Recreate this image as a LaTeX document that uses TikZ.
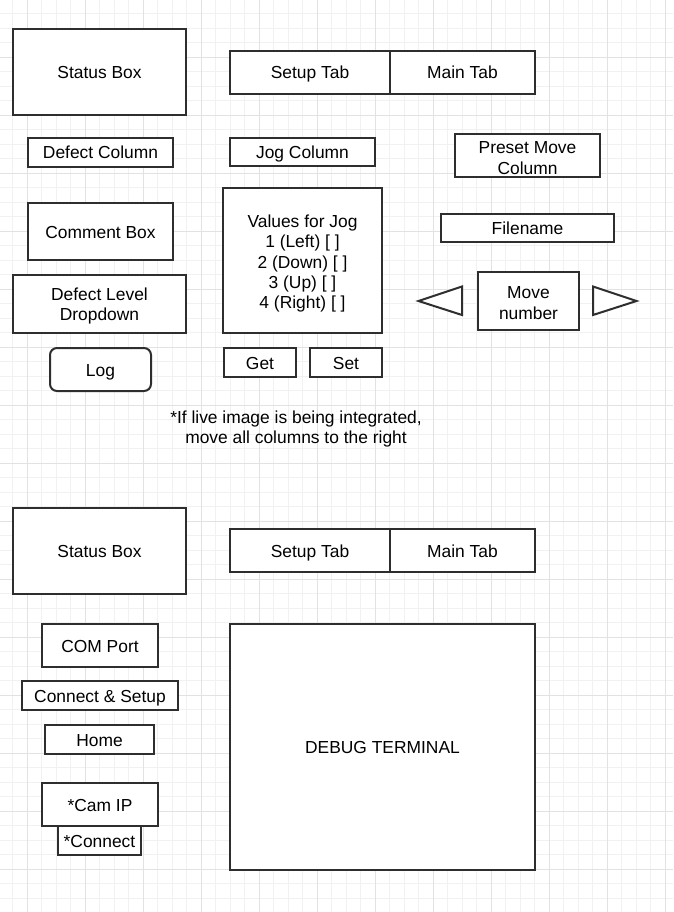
\documentclass[tikz,border=0pt]{standalone}
\usepackage{fontspec}
\setmainfont{Liberation Sans}
\usepackage{tikz}
\usetikzlibrary{positioning}

\definecolor{uiline}{HTML}{2E2E2E}
\definecolor{minorline}{HTML}{F1F1F1}
\definecolor{majorline}{HTML}{E2E2E2}

\begin{document}
\begin{tikzpicture}[x=1pt,y=-1pt,font=\fontsize{17.4}{20.6}\selectfont]

\tikzset{uibox/.style={draw=uiline, line width=2pt, fill=white, inner sep=0pt, outer sep=0pt, align=center, anchor=north west},
         oneline/.style={text height=14pt, text depth=1pt},
         multitext/.style={align=center, inner sep=0pt, yshift=-2pt},
         uishape/.style={draw=uiline, line width=2pt, fill=white, line join=miter},
         minorgrid/.style={draw=minorline, line width=1pt},
         majorgrid/.style={draw=majorline, line width=1pt},
         notetext/.style={align=center, inner sep=0pt}}

\useasboundingbox (0,0) rectangle (673,912);
\fill[white] (0,0) rectangle (673,912);
% grid
\foreach \i in {1,...,46} \draw[minorgrid] (-1.7+14.5*\i,0) -- (-1.7+14.5*\i,912);
\foreach \j in {1,...,62} \draw[minorgrid] (0,-0.7+14.5*\j) -- (673,-0.7+14.5*\j);
\foreach \i in {0,...,11} \draw[majorgrid] (27.3+58*\i,0) -- (27.3+58*\i,912);
\foreach \j in {0,...,15} \draw[majorgrid] (0,57.3+58*\j) -- (673,57.3+58*\j);

% main tab
\node[uibox, oneline, minimum width=173, minimum height=86] (status) at (13,29) {Status Box};
\node[uibox, oneline, minimum width=160, minimum height=43] (setuptab) at (230,51) {Setup Tab};
\node[uibox, oneline, minimum width=145, minimum height=43, right=0pt of setuptab] (maintab) {Main Tab};
\node[uibox, oneline, minimum width=145, minimum height=29] (defectcol) at (28,138) {Defect Column};
\node[uibox, oneline, minimum width=145, minimum height=28] (jogcol) at (230,138) {Jog Column};
\node[uibox, minimum width=145, minimum height=43,
      label={[multitext, yshift=-0.5pt]center:Preset Move\\[1pt]Column}] (presetcol) at (455,134) {};
\node[uibox, oneline, minimum width=145, minimum height=57] (comment) at (28,203) {Comment Box};
\node[uibox, minimum width=159, minimum height=145,
      label={[multitext, yshift=-1pt, font=\fontsize{17.4}{20.3}\selectfont]center:Values for Jog\\1 (Left) [ ]\\2 (Down) [ ]\\3 (Up) [ ]\\4 (Right) [ ]}] (jogvals) at (223,188) {};
\node[uibox, oneline, minimum width=173, minimum height=28] (filename) at (441,214) {Filename};
\node[uibox, minimum width=173, minimum height=58,
      label={[multitext]center:Defect Level\\Dropdown}] (defectlvl) at (13,275) {};
\node[uibox, minimum width=101, minimum height=58,
      label={[multitext]center:Move\\number}] (movenum) at (478,272) {};
\draw[uishape] (418.5,301) -- (462,286.5) -- (462,315) -- cycle;
\draw[uishape] (593,286.5) -- (636.5,301) -- (593,315) -- cycle;
\node[uibox, oneline, rounded corners=7pt, minimum width=101, minimum height=43] (log) at (50,348) {Log};
\node[uibox, oneline, minimum width=72, minimum height=29] (get) at (224,348) {Get};
\node[uibox, oneline, minimum width=72, minimum height=29] (set) at (310,348) {Set};
\node[notetext] (livenote) at (296,429) {*If live image is being integrated,\\move all columns to the right};

% setup tab
\node[uibox, oneline, minimum width=173, minimum height=86] (status2) at (13,508) {Status Box};
\node[uibox, oneline, minimum width=160, minimum height=43] (setuptab2) at (230,529) {Setup Tab};
\node[uibox, oneline, minimum width=145, minimum height=43, right=0pt of setuptab2] (maintab2) {Main Tab};
\node[uibox, oneline, minimum width=116, minimum height=43] (comport) at (42,624) {COM Port};
\node[uibox, oneline, minimum width=156, minimum height=29] (connect) at (22,681) {Connect \& Setup};
\node[uibox, oneline, minimum width=109, minimum height=29] (home) at (45,725) {Home};
\node[uibox, oneline, minimum width=116, minimum height=43] (camip) at (42,783) {*Cam IP};
\node[uibox, oneline, minimum width=83, minimum height=29] (camconnect) at (58,826) {*Connect};
\node[uibox, oneline, minimum width=305, minimum height=246] (debug) at (230,624) {DEBUG TERMINAL};

\end{tikzpicture}
\end{document}
